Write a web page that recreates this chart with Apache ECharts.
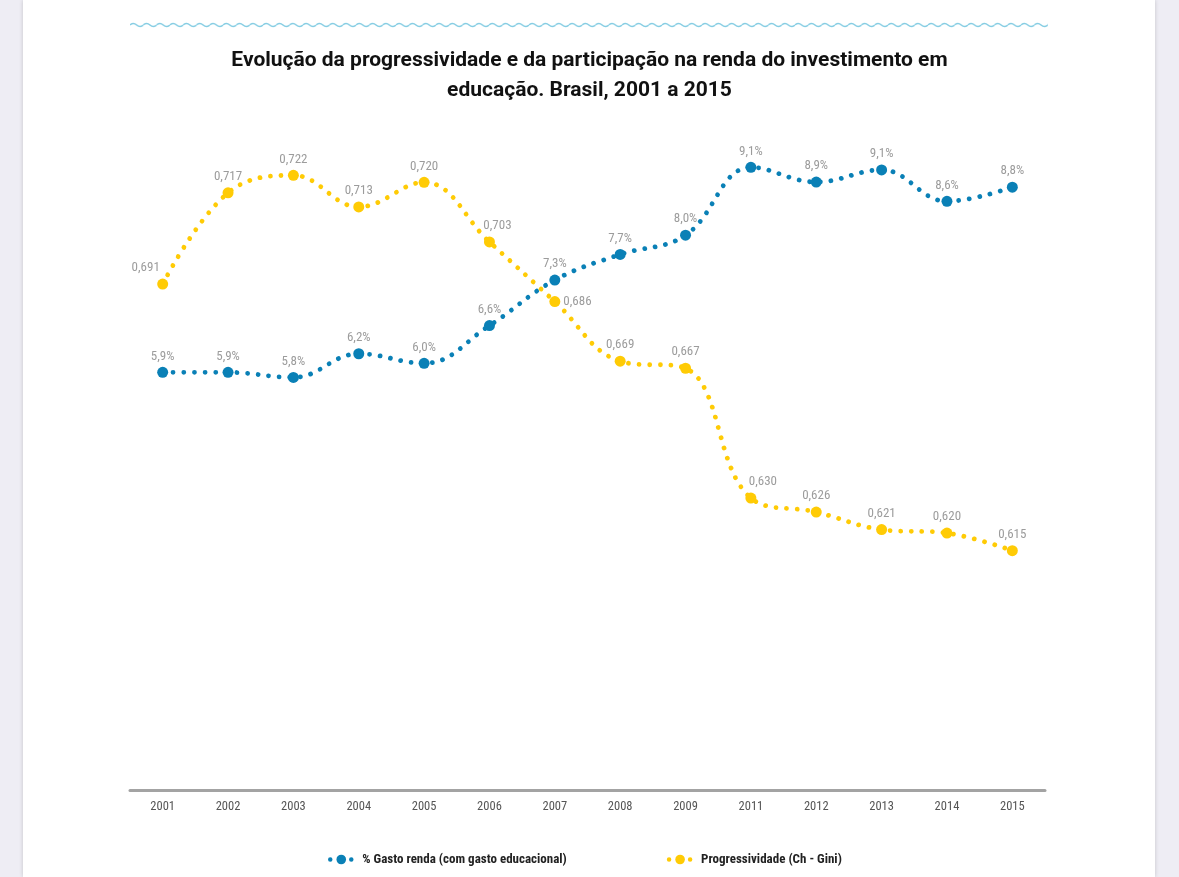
<!DOCTYPE html>
<html>
<head>
<meta charset="utf-8">
<script src="https://cdn.jsdelivr.net/npm/echarts@6/dist/echarts.min.js"></script>
<style>
  html, body { margin: 0; padding: 0; width: 1179px; height: 877px; overflow: hidden; background: #eeedf4; }
  #page { position: absolute; left: 23px; top: 0; width: 1132px; height: 877px; background: #fff;
          box-shadow: 0 0 4px rgba(0,0,0,0.18); }
  #chart { position: absolute; left: 0; top: 0; width: 1179px; height: 877px; }
  #wave { position: absolute; left: 130px; top: 19px; }
</style>
</head>
<body>
<div id="page"></div>
<svg id="wave" width="918" height="12">
  <defs>
    <pattern id="wv" x="0" y="0" width="13.3" height="12" patternUnits="userSpaceOnUse">
      <path d="M0 6 Q3.325 3 6.65 6 T13.3 6" fill="none" stroke="#86cde3" stroke-width="1.6"/>
    </pattern>
  </defs>
  <rect x="0" y="0" width="918" height="12" fill="url(#wv)"/>
</svg>
<div id="chart"></div>
<script>
const categories = ['2001','2002','2003','2004','2005','2006','2007','2008','2009','2011','2012','2013','2014','2015'];
const gastoRenda = [5.90, 5.90, 5.82, 6.19, 6.04, 6.63, 7.34, 7.74, 8.04, 9.10, 8.87, 9.06, 8.57, 8.79];
const progressividade = [0.691, 0.717, 0.722, 0.713, 0.720, 0.703, 0.686, 0.669, 0.667, 0.630, 0.626, 0.621, 0.620, 0.615];
const seriesNames = ['% Gasto renda (com gasto educacional)', 'Progressividade (Ch - Gini)'];
const titleText = 'Evolução da progressividade e da participação na renda do investimento em\neducação. Brasil, 2001 a 2015';

const condensed = "'Roboto Condensed', 'Liberation Sans Narrow', 'DejaVu Sans Condensed', Roboto, sans-serif";
const BLUE = '#0a80b6';
const YELLOW = '#ffcb05';

// label placement overrides (index -> label options), kept apart from the data
const yellowLabelOverrides = {
  0: { offset: [-17, 0] },
  5: { offset: [8, 0] },
  6: { position: 'right', distance: 3 },
  9: { offset: [12, 0] }
};

function withLabels(values, overrides) {
  return values.map((v, i) => overrides[i] ? { value: v, label: overrides[i] } : v);
}

const chart = echarts.init(document.getElementById('chart'), null, { renderer: 'canvas' });

const dotted = (color) => ({ color: color, width: 4.8, type: [0.01, 10.6], cap: 'round' });

chart.setOption({
  animation: false,
  backgroundColor: 'transparent',
  title: {
    text: titleText,
    left: 'center',
    top: 41,
    textStyle: { fontFamily: 'Roboto, sans-serif', fontWeight: 'bold', fontSize: 21, color: '#111', lineHeight: 30, align: 'center' }
  },
  legend: {
    bottom: 6,
    left: 323,
    itemGap: 100,
    itemWidth: 22,
    itemHeight: 12,
    lineStyle: { width: 4.5, type: [0.01, 10.5], cap: 'round' },
    textStyle: { fontFamily: condensed, fontWeight: 'bold', fontSize: 13, color: '#222', padding: [0, 0, 0, 5] },
    data: seriesNames
  },
  grid: { left: 130, right: 134, top: 100, bottom: 87 },
  xAxis: {
    type: 'category',
    data: categories,
    boundaryGap: true,
    axisLine: { onZero: false, lineStyle: { color: '#a3a3a3', width: 3 } },
    axisTick: { show: false },
    axisLabel: { fontFamily: condensed, fontSize: 12.5, color: '#555', margin: 10 }
  },
  yAxis: [
    { type: 'value', min: -0.620, max: 10.151, show: false, splitLine: { show: false } },
    { type: 'value', min: 0.54677, max: 0.74347, show: false, splitLine: { show: false } }
  ],
  series: [
    {
      name: seriesNames[0],
      type: 'line',
      yAxisIndex: 0,
      smooth: 0.4,
      data: gastoRenda,
      symbol: 'circle',
      symbolSize: 11,
      itemStyle: { color: BLUE },
      lineStyle: dotted(BLUE),
      label: {
        show: true, position: 'top', distance: 4,
        fontFamily: condensed, fontSize: 13, color: '#9c9c9c',
        formatter: (p) => p.value.toFixed(1).replace('.', ',') + '%'
      }
    },
    {
      name: seriesNames[1],
      type: 'line',
      yAxisIndex: 1,
      smooth: 0.4,
      data: withLabels(progressividade, yellowLabelOverrides),
      symbol: 'circle',
      symbolSize: 11,
      itemStyle: { color: YELLOW },
      lineStyle: dotted(YELLOW),
      label: {
        show: true, position: 'top', distance: 4,
        fontFamily: condensed, fontSize: 13, color: '#9c9c9c',
        formatter: (p) => p.value.toFixed(3).replace('.', ',')
      }
    }
  ]
});
</script>
</body>
</html>
